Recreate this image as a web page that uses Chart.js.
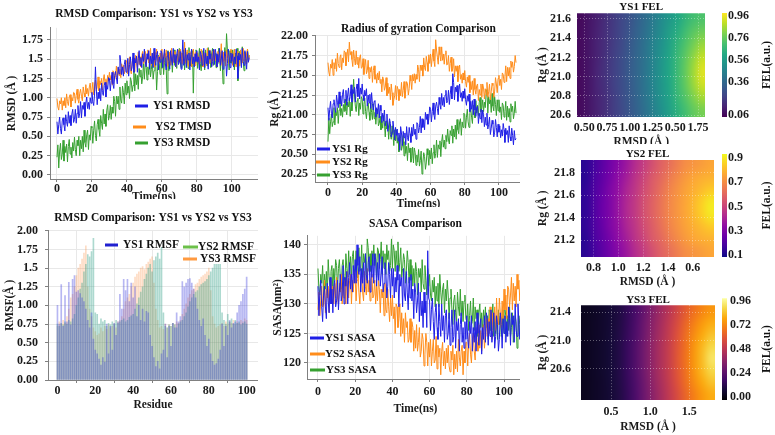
<!DOCTYPE html>
<html>
<head>
<meta charset="utf-8">
<script src="https://cdn.jsdelivr.net/npm/chart.js@4.4.0/dist/chart.umd.min.js"></script>
<style>
  html, body { margin: 0; padding: 0; background: #fff; }
  #fig { position: relative; width: 775px; height: 435px; overflow: hidden; background: #fff; }
  #fig canvas { position: absolute; }
</style>
</head>
<body>
<div id="fig"></div>
<script>
// ---- data ----
const timeStep = 0.5; // ns between samples
const timeTicks = [0, 20, 40, 60, 80, 100];

const ys1Rmsd = [
  0.69,0.53,0.65,0.75,0.60,0.53,0.70,0.74,0.65,0.57,0.78,0.69,0.63,0.82,0.67,0.77,0.64,0.79,0.85,0.68,
  0.72,0.85,0.67,0.80,0.90,0.74,0.80,0.95,0.74,0.90,0.85,0.94,0.76,0.93,1.01,0.86,0.94,0.85,1.00,0.93,
  1.07,0.95,0.90,1.05,1.40,1.11,0.91,1.07,0.99,1.12,0.96,1.19,1.07,1.03,1.16,1.20,1.01,1.16,1.11,1.26,
  1.25,1.09,1.22,1.33,1.18,1.12,1.29,1.34,1.26,1.18,1.40,1.31,1.55,1.45,1.30,1.40,1.28,1.43,1.49,1.33,
  1.36,1.51,1.28,1.43,1.53,1.35,1.40,1.58,1.33,1.51,1.45,1.54,1.33,1.51,1.61,1.42,1.52,1.39,1.57,1.47,
  1.63,1.47,1.40,1.57,1.50,1.61,1.37,1.54,1.44,1.58,1.39,1.64,1.49,1.42,1.56,1.60,1.36,1.53,1.46,1.61,
  1.58,1.39,1.53,1.63,1.44,1.36,1.54,1.60,1.47,1.37,1.61,1.50,1.42,1.64,1.46,1.56,1.40,1.57,1.63,1.43,
  1.46,1.60,1.37,1.51,1.75,1.42,1.47,1.64,1.39,1.56,1.49,1.58,1.36,1.54,1.63,1.44,1.53,1.40,1.57,1.47,
  1.61,1.46,1.53,1.36,1.60,1.56,1.42,1.49,1.64,1.39,1.58,1.44,1.54,1.37,1.61,1.50,1.57,1.40,1.47,1.63,
  1.43,1.63,1.57,1.40,1.56,1.46,1.64,1.42,1.50,1.61,1.37,1.47,1.60,1.54,1.28,1.44,1.63,1.53,1.39,1.58,
  1.47,1.57,1.40,1.53,1.44,1.63,1.54,1.25,1.58,1.49,1.56,1.39,1.64,1.47,1.42,1.61,1.51,1.37,1.60,1.46,
  1.52];
const ys2Rmsd = [
  0.99,0.88,0.84,0.96,0.92,1.00,0.84,0.96,0.90,1.00,0.87,1.05,0.95,0.90,1.01,1.04,0.88,1.00,0.96,1.07,
  1.06,0.93,1.03,1.11,0.98,0.93,1.06,1.11,1.02,0.96,1.14,1.06,1.01,1.17,1.05,1.12,1.02,1.14,1.19,1.06,
  1.09,1.20,1.04,1.15,1.23,1.09,1.14,1.27,1.09,1.22,1.17,1.25,1.10,1.23,1.30,1.18,1.24,1.16,1.29,1.22,
  1.33,1.23,1.29,1.17,1.35,1.33,1.24,1.29,1.41,1.24,1.39,1.29,1.37,1.26,1.44,1.36,1.42,1.31,1.37,1.48,
  1.47,1.31,1.43,1.53,1.37,1.31,1.47,1.52,1.42,1.34,1.55,1.46,1.39,1.59,1.43,1.53,1.40,1.55,1.60,1.44,
  1.48,1.60,1.41,1.53,1.62,1.45,1.50,1.64,1.42,1.57,1.51,1.59,1.40,1.56,1.63,1.47,1.54,1.44,1.58,1.50,
  1.63,1.50,1.44,1.58,1.52,1.62,1.41,1.56,1.47,1.59,1.42,1.64,1.51,1.45,1.57,1.60,1.40,1.54,1.48,1.62,
  1.46,1.63,1.58,1.44,1.57,1.48,1.72,1.45,1.52,1.62,1.41,1.50,1.60,1.56,1.40,1.47,1.63,1.54,1.42,1.59,
  1.50,1.58,1.44,1.54,1.47,1.63,1.56,1.40,1.59,1.51,1.57,1.42,1.64,1.50,1.45,1.62,1.53,1.41,1.60,1.48,
  1.62,1.48,1.54,1.40,1.60,1.57,1.45,1.51,1.70,1.42,1.59,1.47,1.56,1.41,1.62,1.52,1.58,1.44,1.50,1.63,
  1.59,1.42,1.54,1.63,1.47,1.40,1.56,1.60,1.50,1.41,1.62,1.52,1.45,1.64,1.48,1.57,1.44,1.58,1.63,1.46,
  1.55];
const ys3Rmsd = [
  0.23,0.39,0.09,0.31,0.41,0.20,0.27,0.45,0.18,0.37,0.29,0.40,0.17,0.37,0.46,0.27,0.36,0.22,0.42,0.31,
  0.49,0.33,0.25,0.45,0.38,0.50,0.25,0.45,0.34,0.50,0.30,0.58,0.42,0.36,0.52,0.58,0.33,0.52,0.45,0.63,
  0.61,0.41,0.58,0.70,0.51,0.44,0.65,0.72,0.59,0.50,0.77,0.67,0.59,0.85,0.66,0.79,0.63,0.84,0.91,0.71,
  0.77,0.90,0.72,0.88,0.80,1.02,0.95,0.76,1.02,0.92,1.02,0.85,1.14,0.97,0.93,1.15,1.07,0.92,1.19,1.04,
  1.22,1.06,1.15,0.99,1.26,1.22,1.08,1.16,1.35,1.09,1.31,1.17,1.29,1.11,1.38,1.27,1.36,1.18,1.27,1.45,
  1.24,1.47,1.41,1.23,1.40,1.30,1.50,1.27,1.37,1.49,1.24,1.35,1.50,1.44,1.10,1.34,1.55,1.44,1.30,1.51,
  1.38,1.54,1.30,1.46,1.57,1.36,1.05,1.61,1.35,1.53,1.45,1.56,1.33,1.53,1.62,1.42,1.52,1.38,1.57,1.46,
  1.64,1.47,1.39,1.58,1.50,1.62,1.36,1.55,1.44,1.59,1.38,1.65,1.48,1.41,1.56,1.61,1.06,1.53,1.45,1.62,
  1.59,1.38,1.53,1.64,1.44,1.35,1.55,1.61,1.47,1.36,1.62,1.50,1.41,1.65,1.45,1.56,1.39,1.58,1.64,1.42,
  1.47,1.58,1.39,1.53,1.44,1.64,1.55,1.35,1.59,1.48,1.18,1.38,1.65,1.47,1.83,1.62,1.52,1.36,1.61,1.45,
  1.45,1.62,1.52,1.36,1.58,1.43,1.64,1.22,1.38,1.60,1.55,1.41,1.66,1.47,1.35,1.59,1.51,1.44,1.63,1.50,
  1.55];
const rmsdTicks = [0, 0.25, 0.5, 0.75, 1.0, 1.25, 1.5, 1.75];
const rmsdTickLabels = ['0.00','0.25','0.50','0.75','1.00','1.25','1.5','1.75'];

const residueTicks = [0, 20, 40, 60, 80, 100];
const ys1Rmsf = [
  1.00,0.75,1.28,0.72,1.13,0.78,1.31,0.74,1.35,1.40,
  1.18,1.20,1.16,1.10,1.05,0.95,0.80,0.70,0.90,0.55,
  0.40,0.35,0.28,0.20,0.30,0.24,0.75,0.35,0.72,0.40,
  0.76,0.60,0.78,1.15,0.95,1.35,1.20,1.35,1.05,1.30,
  1.10,1.25,0.85,1.00,0.80,0.95,0.78,0.92,0.90,0.60,
  0.45,0.30,0.18,0.25,0.15,0.35,0.40,0.75,0.30,0.72,
  0.45,0.76,0.70,0.90,0.78,0.85,1.32,1.25,1.30,1.35,
  1.36,1.30,1.22,1.10,0.95,0.80,0.72,0.82,0.60,0.45,
  0.55,0.35,0.25,0.20,0.22,0.28,0.40,0.75,0.45,0.72,
  0.60,0.80,0.70,0.76,0.78,0.90,1.00,1.05,1.15,1.22,
  1.38];
const ys2Rmsf = [
  0.75,0.72,0.76,0.74,0.78,0.75,0.80,0.78,0.82,0.88,
  1.00,1.10,1.22,1.30,1.45,1.55,1.68,1.65,1.72,1.90,
  0.90,0.88,0.75,0.82,0.78,0.80,0.72,0.76,0.74,0.78,
  0.75,0.80,0.76,0.78,0.80,0.82,0.78,0.80,0.84,0.86,
  0.88,0.95,1.02,1.10,1.18,1.25,1.35,1.42,1.50,1.55,
  1.45,1.60,1.65,1.70,1.62,1.78,0.90,0.72,0.70,0.74,
  0.72,0.76,0.74,0.70,0.75,0.78,0.80,0.85,0.90,0.98,
  1.05,1.10,1.15,1.18,1.20,1.25,1.28,1.30,1.32,1.35,
  1.40,1.45,1.50,1.55,1.55,1.55,1.55,0.90,0.80,0.75,
  0.88,0.78,0.82,0.75,0.80,0.76,0.78,0.74,0.76,0.78,
  0.75];
const ys3Rmsf = [
  0.72,0.78,0.75,0.80,0.76,0.85,0.95,1.10,1.15,1.25,
  1.40,1.50,1.55,1.62,1.70,1.80,1.25,0.95,0.85,0.70,
  0.65,0.60,0.62,0.70,0.65,0.72,0.68,0.74,0.70,0.72,
  0.75,0.70,0.78,0.80,0.85,0.95,1.05,1.10,1.15,1.25,
  1.30,1.38,1.42,1.45,1.50,1.52,1.48,1.55,1.58,1.62,
  1.65,1.30,0.95,0.80,0.70,0.72,0.68,0.75,0.70,0.74,
  0.72,0.76,0.74,0.78,0.76,0.80,0.88,0.95,1.02,1.10,
  1.15,1.20,1.22,1.28,1.30,1.35,1.38,1.40,1.42,1.45,
  1.50,1.20,0.85,0.75,0.70,0.72,0.74,0.76,0.72,0.78,
  0.75,0.78,0.76,0.80,0.74,0.78,0.76,0.80,0.78,0.82,
  0.80];
const rmsfTicks = [0, 0.25, 0.5, 0.75, 1.0, 1.25, 1.5, 1.75, 2.0];
const rmsfTickLabels = ['0.00','0.25','0.50','0.75','1.00','1.25','1.5','1.75','2.00'];

const ys1Rg = [
  21.09,20.93,21.07,21.17,21.02,20.96,21.14,21.19,21.10,21.03,21.25,21.16,21.09,21.29,21.14,21.24,21.11,21.26,21.32,21.15,
  21.18,21.31,21.12,21.25,21.34,21.18,21.23,21.38,21.16,21.32,21.27,21.35,21.16,21.32,21.39,21.23,21.46,21.20,21.34,21.26,
  21.39,21.25,21.18,21.31,21.24,21.33,21.11,21.25,21.15,21.26,21.08,21.28,21.14,21.06,21.17,21.18,20.97,21.09,21.01,21.14,
  20.96,21.12,21.05,20.90,21.02,20.92,21.06,20.86,20.92,21.01,20.79,20.86,20.95,20.89,20.72,20.78,20.92,20.82,20.68,20.84,
  20.74,20.82,20.67,20.77,20.55,20.85,20.77,20.61,20.79,20.71,20.77,20.62,20.85,20.71,20.67,20.84,20.76,20.65,20.84,20.73,
  20.88,20.75,20.82,20.69,20.90,20.88,20.77,20.84,20.98,20.77,20.95,20.84,20.94,20.81,21.03,20.94,21.01,20.88,20.95,21.10,
  21.07,20.91,21.04,21.15,21.00,20.94,21.11,21.16,21.08,21.00,21.22,21.13,21.07,21.27,21.12,21.22,21.10,21.25,21.31,21.15,
  21.18,21.31,21.13,21.26,21.36,21.20,21.52,21.41,21.19,21.35,21.29,21.37,21.17,21.32,21.39,21.22,21.28,21.17,21.30,21.21,
  21.33,21.19,21.12,21.24,21.17,21.26,21.04,21.17,21.07,21.18,21.00,21.20,21.06,20.98,21.09,21.11,20.89,21.02,20.95,21.07,
  20.90,21.06,21.00,20.85,20.97,20.87,21.02,20.82,20.88,20.97,20.75,20.83,20.93,20.88,20.72,20.78,20.94,20.84,20.72,20.88,
  20.78,20.86,20.71,20.81,20.73,20.89,20.81,20.65,20.83,20.75,20.80,20.65,20.86,20.72,20.67,20.83,20.74,20.62,20.80,20.68,
  20.70];
const ys2Rg = [
  21.66,21.54,21.49,21.64,21.59,21.70,21.50,21.66,21.58,21.71,21.55,21.78,21.65,21.60,21.73,21.76,21.57,21.72,21.66,21.81,
  21.79,21.62,21.74,21.83,21.67,21.92,21.76,21.80,21.70,21.61,21.82,21.71,21.63,21.81,21.64,21.73,21.59,21.72,21.76,21.59,
  21.60,21.71,21.51,21.62,21.70,21.52,21.56,21.69,21.46,21.60,21.54,21.61,21.41,21.56,21.62,21.45,21.51,21.40,21.53,21.44,
  21.55,21.40,21.45,21.29,21.48,21.44,21.31,21.35,21.47,21.24,21.40,21.27,21.35,21.19,21.39,21.28,21.12,21.19,21.24,21.37,
  21.19,21.36,21.32,21.18,21.32,21.24,21.41,21.23,21.31,21.42,21.21,21.31,21.42,21.39,21.25,21.33,21.50,21.43,21.32,21.51,
  21.43,21.52,21.40,21.51,21.45,21.63,21.57,21.42,21.63,21.56,21.63,21.49,21.72,21.60,21.56,21.74,21.66,21.55,21.76,21.65,
  21.77,21.61,21.73,21.83,21.68,21.61,21.95,21.82,21.73,21.64,21.86,21.76,21.68,21.86,21.69,21.77,21.64,21.77,21.81,21.63,
  21.64,21.75,21.55,21.65,21.73,21.55,21.59,21.71,21.48,21.62,21.55,21.62,21.42,21.57,21.63,21.45,21.51,21.40,21.53,21.44,
  21.56,21.42,21.35,21.48,21.41,21.50,21.28,21.42,21.32,21.43,21.25,21.46,21.32,21.26,21.37,21.39,21.18,21.32,21.25,21.39,
  21.22,21.39,21.34,21.20,21.33,21.25,21.41,21.22,21.29,21.39,21.19,21.29,21.40,21.37,21.22,21.30,21.47,21.39,21.28,21.46,
  21.50,21.37,21.45,21.32,21.53,21.51,21.41,21.48,21.62,21.42,21.60,21.49,21.60,21.46,21.68,21.60,21.67,21.54,21.61,21.75,
  21.66];
const ys3Rg = [
  20.66,20.96,20.76,20.91,21.01,20.85,20.91,21.09,20.87,21.04,20.99,21.09,20.89,21.06,21.15,20.99,21.08,20.97,21.13,21.04,
  21.20,21.05,21.00,21.16,21.10,21.21,20.98,21.16,21.05,21.19,21.45,21.25,21.11,21.04,21.18,21.21,20.99,21.15,21.07,21.23,
  21.20,21.01,21.13,21.21,21.04,20.95,21.11,21.15,21.03,20.93,21.15,21.03,20.94,21.14,20.95,21.03,20.88,21.03,21.07,20.86,
  20.89,20.98,20.81,20.92,20.83,20.99,20.90,20.72,20.92,20.82,20.87,20.69,20.92,20.75,20.69,20.86,20.75,20.61,20.81,20.67,
  20.81,20.64,20.71,20.53,20.74,20.70,20.55,20.61,20.74,20.48,20.66,20.51,20.60,20.42,20.64,20.52,20.58,20.40,20.45,20.59,
  20.39,20.58,20.52,20.36,20.49,20.40,20.56,20.35,20.42,20.54,20.25,20.39,20.52,20.47,20.31,20.39,20.57,20.49,20.36,20.55,
  20.44,20.58,20.38,20.52,20.62,20.45,20.51,20.68,20.46,20.62,20.57,20.67,20.47,20.66,20.75,20.59,20.68,20.57,20.74,20.66,
  20.82,20.68,20.63,20.80,20.74,20.86,20.64,20.82,20.72,20.87,20.69,20.94,20.81,20.76,20.91,20.95,20.74,20.91,20.84,21.02,
  21.00,20.83,20.97,21.07,20.91,20.84,21.02,21.08,20.97,20.89,21.12,21.03,20.96,21.18,21.02,21.12,20.99,21.16,21.22,21.04,
  21.09,21.19,21.04,21.16,21.09,21.26,21.32,21.02,21.23,21.14,21.20,21.03,21.27,21.11,21.05,21.23,21.13,20.99,21.19,21.05,
  21.19,21.03,21.10,20.94,21.15,21.12,20.97,21.04,21.17,20.93,21.11,20.97,21.08,20.91,21.14,21.04,21.11,20.95,21.02,21.17,
  21.02];
const rgTicks = [20.25, 20.5, 20.75, 21.0, 21.25, 21.5, 21.75, 22.0];

const ys1Sasa = [
  133,128,132,134,129.5,127,131.5,133,129.5,127.5,133.5,130.5,128.5,134.5,130,132.5,128.5,133,134,129.5,
  130.5,134,129,132,135,130.5,131.5,136.5,130,134.5,133,135.5,130,134.5,137,132.5,135,132,136.5,133.5,
  137.5,133.5,140,136.5,135,138,132,136,133.5,137,132,138.5,135,133.5,137,138,132,136.5,134.5,138.5,
  133.5,138.5,137.5,133,137,134,138.5,133,135,138,132,133.5,137,135.5,131,133,137,135,131,136,
  133,136,131,134.5,132,136.5,134,129.5,135,133,134.5,129.5,136,131.5,130.5,135.5,132,129,134.5,131,
  135,130.5,132.5,127.5,133.5,132,128.5,130.5,133.5,127,132,128,130.5,126,132,128.5,130.5,126,139,131,
  130.5,125.5,129,131,127,124,128.5,130,126,124,130,127,124.5,130,125.5,128,123.5,128,129,124,
  125,128.5,123,126,129,123.5,124.5,129,122.5,127,125.5,127.5,122,126.5,128.5,123.5,126,122.5,127,124,
  128,124,122.5,127,125,128,122,126,123.5,127,122,128.5,125,123,126.5,127.5,121.5,126,124,128,
  123.5,128.5,127.5,123,127,124.5,129,123.5,125.5,128.5,122.5,124.5,128,126.5,122,124,128.5,126.5,122.5,127.5,
  125,128,123.5,127,124.5,129.5,127.5,123,128.5,126.5,128,123.5,130,125.5,124.5,130,127,124,129.5,126,
  127];
const ys2Sasa = [
  129,132,128,130.5,133,129.5,130,134,128.5,132.5,131,133,128.5,132.5,134,130,133,130,133.5,131,
  134.5,131,130,133.5,132,135,130,133.5,131,134,130,135.5,132.5,131,134,135,130,134,132,135.5,
  134.5,130.5,134,135.5,132,130,134,135,132,130.5,135.5,133,131.5,136,132,134,130.5,134,135,131,
  131.5,134,130,133,130.5,134,132.5,128.5,132.5,131,132.5,128,133.5,129,128.5,132.5,129.5,127,131,128,
  131.5,127.5,129.5,125,130,129.5,126,127.5,130,124.5,128.5,125,127.5,123.5,128.5,126,127,123.5,124,127.5,
  123.5,127,126,122,125.5,122.5,126.5,122,123.5,126,121,122,125,124,119.5,121.5,125,123.5,119.5,123.5,
  121,124,119.5,122,124,120,120.5,124.5,119,123,121,122.5,118,122,123.5,119.5,122,119,122.5,120,
  123,119.5,118.5,122,120.5,123,118,121.5,119,122,118.5,124,121,119.5,122,123,118,122,120,123.5,
  123.5,119.5,123.5,125,121.5,120,124,125,122,120.5,126,123.5,122,126.5,122.5,125.5,122,125.5,126.5,122.5,
  125,127.5,124.5,127.5,125,129.5,128,124,128.5,127,129.5,125.5,131,127,126.5,131,128.5,126,130.5,127.5,
  132.5,129,131.5,127.5,133,132.5,129.5,131.5,134.5,129,133.5,130.5,133,129.5,135,132.5,134,130.5,132,135.5,
  133];
const ys3Sasa = [
  136,132.5,131.5,135,133.5,136.5,131.5,135,132.5,135.5,131.5,137.5,134.5,133,135.5,136.5,132,136,134,137.5,
  136.5,132.5,136,137.5,134.5,132.5,136.5,137.5,134.5,133,138.5,136,134.5,139,135,138,134.5,138,139,135,
  136,139,134.5,137,139.5,135.5,136,140,134.5,138.5,137,138.5,134,141,139.5,135.5,138.5,135.5,139,136.5,
  140,136.5,138.5,134.5,139.5,139,136,137.5,140.5,135,139,136,138.5,135,140,137.5,139,135.5,136.5,141,
  136,140,139,135.5,139,136.5,140.5,135.5,137,139.5,134.5,136,138.5,137.5,133.5,135.5,139,137,133.5,137.5,
  134,136.5,133,136,133.5,137,135.5,131.5,136,134.5,136,132,137.5,133.5,132.5,136.5,134,131.5,136,133,
  135,131.5,130.5,134,132,134.5,129.5,133,130.5,133.5,129.5,135,132,130,132.5,133.5,128.5,132.5,130.5,134,
  131.5,127.5,131,132.5,129,126.5,130.5,131.5,128.5,127,132,129.5,128,132.5,128,130.5,127,130.5,131.5,127.5,
  127,130,125.5,128,130.5,126.5,127,131,125.5,129.5,127.5,129,124.5,128.5,130,126,128.5,125.5,129,126.5,
  129.5,126,128,124,129,128.5,125.5,127,130,124.5,128,125,127.5,124,129,126.5,128,124.5,125.5,129,
  125,129,128,124.5,128,125.5,129.5,124.5,126,128.5,123.5,125,128,127,122.5,124.5,128,126.5,123,127,
  125.5];
const sasaTicks = [120, 125, 130, 135, 140];

// free-energy landscapes: cell edges and values (rows from low Rg to high Rg)
const ys1FelRmsdEdges = [0.42,0.51,0.60,0.69,0.77,0.86,0.95,1.04,1.13,1.21,1.30,1.39,1.48,1.57,1.65,1.74,1.83];
const ys1FelRgEdges = [20.58,20.72,20.85,20.99,21.12,21.26,21.39,21.53,21.66];
const ys1Fel = [
  [0.07,0.10,0.13,0.17,0.21,0.25,0.295,0.34,0.395,0.45,0.51,0.575,0.64,0.70,0.755,0.79],
  [0.07,0.10,0.135,0.17,0.21,0.255,0.30,0.35,0.405,0.46,0.525,0.59,0.665,0.73,0.80,0.855],
  [0.07,0.10,0.14,0.175,0.22,0.26,0.305,0.355,0.41,0.47,0.535,0.60,0.68,0.755,0.84,0.915],
  [0.07,0.10,0.14,0.18,0.22,0.26,0.31,0.355,0.41,0.47,0.535,0.605,0.68,0.76,0.85,0.94],
  [0.07,0.10,0.135,0.175,0.215,0.26,0.305,0.355,0.405,0.465,0.53,0.60,0.675,0.75,0.83,0.905],
  [0.07,0.10,0.135,0.17,0.21,0.25,0.30,0.35,0.40,0.46,0.52,0.585,0.66,0.725,0.79,0.845],
  [0.07,0.10,0.13,0.17,0.205,0.245,0.29,0.34,0.39,0.445,0.505,0.57,0.63,0.695,0.745,0.78],
  [0.065,0.095,0.125,0.165,0.20,0.24,0.28,0.33,0.38,0.43,0.49,0.545,0.60,0.655,0.70,0.72]];
const ys1FelXTicks = [0.5, 0.75, 1.0, 1.25, 1.5, 1.75];
const ys1FelXLabels = ['0.50','0.75','1.00','1.25','0.50','1.75'];
const ys1FelYTicks = [20.6, 20.8, 21.0, 21.2, 21.4, 21.6];
const ys1FelYLabels = ['20.6','20.8','21.0','21.2','21.4','21.6'];
const ys1FelCbTicks = [0.06, 0.36, 0.56, 0.76, 0.96];
const ys1FelCbLabels = ['0.06','0.36','0.56','0.76','0.96'];

const ys2FelRmsdEdges = [0.70,0.77,0.83,0.90,0.97,1.03,1.10,1.17,1.24,1.30,1.37,1.44,1.50,1.57,1.64,1.70,1.77];
const ys2FelRgEdges = [21.05,21.16,21.27,21.37,21.48,21.59,21.70,21.81,21.92];
const ys2Fel = [
  [0.13,0.17,0.22,0.27,0.32,0.37,0.43,0.48,0.53,0.58,0.62,0.66,0.70,0.72,0.74,0.76],
  [0.13,0.18,0.23,0.28,0.34,0.39,0.45,0.50,0.56,0.60,0.65,0.69,0.73,0.76,0.78,0.79],
  [0.14,0.19,0.24,0.30,0.35,0.41,0.46,0.52,0.57,0.62,0.67,0.71,0.75,0.78,0.81,0.84],
  [0.14,0.19,0.25,0.30,0.36,0.42,0.47,0.53,0.58,0.63,0.68,0.72,0.76,0.80,0.85,0.90],
  [0.14,0.19,0.25,0.30,0.36,0.42,0.47,0.53,0.58,0.63,0.68,0.72,0.76,0.80,0.85,0.90],
  [0.14,0.19,0.24,0.30,0.35,0.41,0.46,0.52,0.57,0.62,0.67,0.71,0.75,0.78,0.81,0.84],
  [0.13,0.18,0.23,0.28,0.34,0.39,0.45,0.50,0.56,0.60,0.65,0.69,0.73,0.76,0.78,0.79],
  [0.13,0.17,0.22,0.27,0.32,0.37,0.43,0.48,0.53,0.58,0.62,0.66,0.70,0.72,0.74,0.76]];
const ys2FelXTicks = [0.8, 1.0, 1.2, 1.4, 1.6];
const ys2FelXLabels = ['0.8','1.0','1.2','1.4','0.6'];
const ys2FelYTicks = [21.2, 21.4, 21.6, 21.8];
const ys2FelYLabels = ['21.2','21.4','21.6','21.8'];
const ys2FelCbTicks = [0.1, 0.3, 0.5, 0.7, 0.9];
const ys2FelCbLabels = ['0.1','0.3','0.5','0.7','0.9'];

const ys3FelRmsdEdges = [0.115,0.22,0.33,0.44,0.54,0.65,0.76,0.87,0.97,1.08,1.19,1.29,1.40,1.51,1.62,1.72,1.83];
const ys3FelRgEdges = [20.16,20.33,20.50,20.66,20.83,21.00,21.16,21.33,21.50];
const ys3Fel = [
  [0.014,0.028,0.042,0.062,0.09,0.135,0.195,0.275,0.35,0.42,0.49,0.56,0.635,0.70,0.76,0.80],
  [0.015,0.029,0.043,0.063,0.093,0.14,0.20,0.28,0.36,0.43,0.50,0.58,0.655,0.73,0.795,0.845],
  [0.015,0.03,0.045,0.065,0.095,0.145,0.21,0.29,0.37,0.44,0.51,0.59,0.665,0.75,0.825,0.89],
  [0.015,0.03,0.045,0.065,0.095,0.145,0.21,0.29,0.37,0.44,0.51,0.595,0.67,0.755,0.835,0.92],
  [0.015,0.03,0.045,0.065,0.095,0.145,0.21,0.29,0.37,0.44,0.51,0.59,0.665,0.75,0.825,0.89],
  [0.015,0.029,0.043,0.063,0.093,0.14,0.20,0.28,0.36,0.43,0.50,0.58,0.655,0.73,0.795,0.845],
  [0.014,0.028,0.042,0.062,0.09,0.135,0.195,0.275,0.35,0.42,0.49,0.56,0.635,0.70,0.76,0.80],
  [0.013,0.027,0.04,0.06,0.085,0.13,0.185,0.26,0.335,0.405,0.47,0.54,0.61,0.665,0.715,0.75]];
const ys3FelXTicks = [0.5, 1.0, 1.5];
const ys3FelXLabels = ['0.5','1.0','1.5'];
const ys3FelYTicks = [20.6, 21.0, 21.4];
const ys3FelYLabels = ['20.6','21.0','21.4'];
const ys3FelCbTicks = [0, 0.24, 0.48, 0.72, 0.96];
const ys3FelCbLabels = ['0.00','0.24','0.48','0.72','0.96'];

// ---- styling ----
const SERIF = "'Liberation Serif', 'Times New Roman', serif";
Chart.defaults.font.family = SERIF;
Chart.defaults.font.weight = 'bold';
Chart.defaults.font.size = 12;
Chart.defaults.color = '#1a1a1a';

const BLUE = '#1f1fe6', ORANGE = '#ff8c1a', GREEN = '#36a030';
const VIRIDIS = ['#440154','#482475','#414487','#355f8d','#2a788e','#21918c','#22a884','#44bf70','#7ad151','#bddf26','#fde725'];
const PLASMA = ['#0d0887','#41049d','#6a00a8','#8f0da4','#b12a90','#cc4778','#e16462','#f2844b','#fca636','#fcce25','#f0f921'];
const INFERNO = ['#000004','#160b39','#420a68','#6a176e','#932667','#bc3754','#dd513a','#f37819','#fca50a','#f6d746','#fcffa4'];
const GRID = '#e8e8e8', AXIS = '#808080';

const fig = document.getElementById('fig');
function place(left, top, w, h, white) {
  const c = document.createElement('canvas');
  c.width = w; c.height = h;
  c.style.left = left + 'px'; c.style.top = top + 'px';
  c.style.width = w + 'px'; c.style.height = h + 'px';
  if (white) c.style.background = '#fff';
  fig.appendChild(c);
  return c;
}
const fixW = w => s => { s.width = w; };
const fixH = h => s => { s.height = h; };
const setTicks = vals => s => { s.ticks = vals.map(v => ({ value: v })); };

function hexRgb(h) { return [1, 3, 5].map(i => parseInt(h.substr(i, 2), 16)); }
function cmap(stops, t) {
  t = Math.max(0, Math.min(1, t));
  const n = stops.length - 1, f = t * n, i = Math.min(Math.floor(f), n - 1), u = f - i;
  const a = hexRgb(stops[i]), b = hexRgb(stops[i + 1]);
  return 'rgb(' + a.map((c, k) => Math.round(c + (b[k] - c) * u)).join(',') + ')';
}

// legend drawn inside the plot (positions in page px)
function legendInside(left, top, items, size) {
  return {
    id: 'legendInside',
    afterDatasetsDraw(chart) {
      const ctx = chart.ctx;
      ctx.save();
      ctx.translate(-left, -top);
      ctx.font = 'bold ' + size + 'px ' + SERIF;
      ctx.textBaseline = 'middle';
      items.forEach((it, i) => {
        ctx.strokeStyle = it.color;
        ctx.lineWidth = 3;
        ctx.beginPath(); ctx.moveTo(it.x0, it.y); ctx.lineTo(it.x1, it.y); ctx.stroke();
        ctx.fillStyle = '#111';
        ctx.fillText(chart.data.datasets[i].label, it.tx, it.y + 0.5);
      });
      ctx.restore();
    }
  };
}

function timeChart(box, o) {
  return new Chart(place(box.left, box.top, box.w, box.h, box.white), {
    type: 'line',
    data: {
      datasets: o.series.map(s => ({
        label: s.label,
        data: s.values.map((v, i) => ({ x: i * timeStep, y: v })),
        borderColor: s.color, borderWidth: 1, pointRadius: 0, tension: 0
      }))
    },
    options: {
      responsive: false, animation: false, events: [],
      plugins: {
        legend: { display: false }, tooltip: { enabled: false },
        title: { display: true, text: o.title, fullSize: false, color: '#111',
                 font: { size: 11.5 }, padding: o.titlePad }
      },
      scales: {
        x: {
          type: 'linear', min: o.xMin, max: o.xMax,
          afterBuildTicks: setTicks(timeTicks), afterFit: fixH(o.xH),
          ticks: { padding: o.xTickPad, maxRotation: 0, autoSkip: false },
          grid: { color: GRID, tickLength: 3, tickColor: AXIS },
          border: { color: AXIS },
          title: { display: true, text: 'Time(ns)', font: { size: 11.5 }, padding: { top: 0, bottom: o.xTitlePad } }
        },
        y: {
          min: o.yMin, max: o.yMax,
          afterBuildTicks: setTicks(o.yTicks), afterFit: fixW(o.yW),
          ticks: { padding: o.yTickPad, callback: o.yLabels ? (v, i) => o.yLabels[i] : undefined },
          grid: { color: GRID, tickLength: 3, tickColor: AXIS },
          border: { color: AXIS },
          title: { display: true, text: o.yTitle, font: { size: 11.5 }, padding: { top: o.yTitlePad, bottom: 0 } }
        }
      }
    },
    plugins: [legendInside(box.left, box.top, o.legend, o.legendSize)]
  });
}

// one pixel per grid cell, scaled onto the cell edges with smoothing
function heatPlugin(o) {
  return {
    id: 'heatCells',
    beforeDraw(chart) {
      const { ctx, chartArea: a, scales: { x, y } } = chart;
      const rows = o.grid.length, cols = o.grid[0].length;
      const off = document.createElement('canvas');
      off.width = cols; off.height = rows;
      const octx = off.getContext('2d');
      o.grid.forEach((row, i) => row.forEach((v, j) => {
        octx.fillStyle = cmap(o.stops, (v - o.vMin) / (o.vMax - o.vMin));
        octx.fillRect(j, rows - 1 - i, 1, 1);
      }));
      const xl = x.getPixelForValue(o.rmsdEdges[0]), xr = x.getPixelForValue(o.rmsdEdges[cols]);
      const yb = y.getPixelForValue(o.rgEdges[0]), yt = y.getPixelForValue(o.rgEdges[rows]);
      ctx.save();
      ctx.beginPath(); ctx.rect(a.left, a.top, a.right - a.left, a.bottom - a.top); ctx.clip();
      ctx.imageSmoothingEnabled = true;
      ctx.imageSmoothingQuality = 'high';
      ctx.drawImage(off, xl, yt, xr - xl, yb - yt);
      ctx.restore();
    }
  };
}

function felChart(box, o) {
  return new Chart(place(box.left, box.top, box.w, box.h, true), {
    type: 'scatter',
    data: { datasets: [] },
    options: {
      responsive: false, animation: false, events: [],
      plugins: {
        legend: { display: false }, tooltip: { enabled: false },
        title: { display: true, text: o.title, fullSize: false, color: '#111',
                 font: { size: 11, lineHeight: 1 }, padding: o.titlePad }
      },
      scales: {
        x: {
          type: 'linear', min: o.rmsdEdges[0], max: o.rmsdEdges[o.rmsdEdges.length - 1],
          afterBuildTicks: setTicks(o.xTicks), afterFit: fixH(o.xH),
          ticks: { padding: o.xTickPad, maxRotation: 0, autoSkip: false, callback: (v, i) => o.xLabels[i] },
          grid: { color: 'rgba(255,255,255,0.35)', drawTicks: false },
          border: { display: false, dash: [1, 2] },
          title: { display: true, text: 'RMSD (Å )', font: { size: 11.5 }, padding: { top: 0, bottom: o.xTitlePad } }
        },
        y: {
          type: 'linear', min: o.rgEdges[0], max: o.rgEdges[o.rgEdges.length - 1],
          afterBuildTicks: setTicks(o.yTicks), afterFit: fixW(o.yW),
          ticks: { padding: o.yTickPad, callback: (v, i) => o.yLabels[i] },
          grid: { color: 'rgba(255,255,255,0.35)', drawTicks: false },
          border: { display: false, dash: [1, 2] },
          title: { display: true, text: 'Rg (Å )', font: { size: 11.5 }, padding: { top: 16, bottom: 0 } }
        }
      }
    },
    plugins: [heatPlugin(o)]
  });
}

function colorbar(box, o) {
  return new Chart(place(box.left, box.top, box.w, box.h, false), {
    type: 'bar',
    data: {
      labels: [''],
      datasets: [{
        data: [[o.vMin, o.vMax]],
        borderWidth: 0, barPercentage: 1, categoryPercentage: 1,
        backgroundColor: c => {
          const a = c.chart.chartArea;
          if (!a) return o.stops[0];
          const g = c.chart.ctx.createLinearGradient(0, a.bottom, 0, a.top);
          o.stops.forEach((s, i) => g.addColorStop(i / (o.stops.length - 1), s));
          return g;
        }
      }]
    },
    options: {
      responsive: false, animation: false, events: [],
      layout: { padding: { left: 6, top: o.padTop, bottom: o.padBottom, right: 0 } },
      plugins: { legend: { display: false }, tooltip: { enabled: false } },
      scales: {
        x: { display: false },
        y: {
          position: 'right', min: o.vMin, max: o.vMax,
          afterBuildTicks: setTicks(o.ticks), afterFit: fixW(box.w - 11),
          ticks: { padding: o.tickPad, callback: (v, i) => o.labels[i] },
          grid: { display: false, drawTicks: false }, border: { display: false }
        }
      }
    },
    plugins: [{
      id: 'cbTitle',
      afterDraw(chart) {
        const ctx = chart.ctx, a = chart.chartArea;
        ctx.save();
        ctx.translate(51, (a.top + a.bottom) / 2);
        ctx.rotate(-Math.PI / 2);
        ctx.font = 'bold 11.5px ' + SERIF;
        ctx.fillStyle = '#111';
        ctx.textAlign = 'center'; ctx.textBaseline = 'middle';
        ctx.fillText('FEL(a.u.)', 0, 0);
        ctx.restore();
      }
    }]
  });
}

// ---- panel 1: RMSD vs time ----
timeChart({ left: 0, top: 0, w: 258, h: 206 }, {
  title: 'RMSD Comparison: YS1 vs YS2 vs YS3', titlePad: { top: 7, bottom: 7 },
  series: [
    { label: 'YS1 RMSD', values: ys1Rmsd, color: BLUE },
    { label: 'YS2 TMSD', values: ys2Rmsd, color: ORANGE },
    { label: 'YS3 RMSD', values: ys3Rmsd, color: GREEN }],
  xMin: -4, xMax: 115, xH: 27, xTickPad: 0, xTitlePad: 2,
  yMin: -0.052, yMax: 1.906, yTicks: rmsdTicks, yLabels: rmsdTickLabels,
  yW: 50, yTickPad: 4, yTitle: 'RMSD (Å )', yTitlePad: 5,
  legendSize: 11.5,
  legend: [
    { color: BLUE, x0: 135, x1: 148, y: 106, tx: 153 },
    { color: ORANGE, x0: 133, x1: 146, y: 127, tx: 155 },
    { color: GREEN, x0: 135, x1: 148, y: 143, tx: 153 }]
});

// ---- panel 2: RMSF per residue ----
(function () {
  const box = { left: 0, top: 199, w: 258, h: 236 };
  const mk = (label, vals, color) => ({
    label, data: vals.map((v, i) => ({ x: i, y: v })),
    backgroundColor: color, borderWidth: 0, barThickness: 1, grouped: false
  });
  new Chart(place(box.left, box.top, box.w, box.h, true), {
    type: 'bar',
    data: { datasets: [
      mk('YS1 RMSF', ys1Rmsf, 'rgba(55,55,220,0.36)'),
      mk('YS2 RMSF', ys2Rmsf, 'rgba(60,165,140,0.42)'),
      mk('YS3 RMSF', ys3Rmsf, 'rgba(250,145,75,0.32)')] },
    options: {
      responsive: false, animation: false, events: [],
      plugins: {
        legend: { display: false }, tooltip: { enabled: false },
        title: { display: true, text: 'RMSD Comparison: YS1 vs YS2 vs YS3', fullSize: false, color: '#111',
                 font: { size: 11.5 }, padding: { top: 12, bottom: 6 } }
      },
      scales: {
        x: {
          type: 'linear', min: -5, max: 106, offset: false,
          afterBuildTicks: setTicks(residueTicks), afterFit: fixH(55),
          ticks: { padding: 1, maxRotation: 0, autoSkip: false },
          grid: { color: GRID, tickLength: 3, tickColor: AXIS },
          border: { color: AXIS },
          title: { display: true, text: 'Residue', font: { size: 11.5 }, padding: { top: 0, bottom: 23 } }
        },
        y: {
          min: 0, max: 2.0,
          afterBuildTicks: setTicks(rmsfTicks), afterFit: fixW(48),
          ticks: { padding: 7, callback: (v, i) => rmsfTickLabels[i] },
          grid: { color: GRID, tickLength: 3, tickColor: AXIS },
          border: { color: AXIS },
          title: { display: true, text: 'RMSF(Å )', font: { size: 11.5 }, padding: { top: 3, bottom: 0 } }
        }
      }
    },
    plugins: [legendInside(box.left, box.top, [
      { color: '#2020d0', x0: 105, x1: 118, y: 245, tx: 123 },
      { color: '#6cc04a', x0: 183, x1: 198, y: 247, tx: 198 },
      { color: '#ff9a40', x0: 183, x1: 197, y: 259, tx: 200 }], 11.5)]
  });
})();

// ---- panel 3: radius of gyration ----
timeChart({ left: 262, top: 12, w: 260, h: 200 }, {
  title: 'Radius of gyration Comparison', titlePad: { top: 10, bottom: 0 },
  series: [
    { label: 'YS1 Rg', values: ys1Rg, color: BLUE },
    { label: 'YS2 Rg', values: ys2Rg, color: ORANGE },
    { label: 'YS3 Rg', values: ys3Rg, color: GREEN }],
  xMin: -7.6, xMax: 113.5, xH: 30, xTickPad: 1, xTitlePad: 1,
  yMin: 20.149, yMax: 22.0, yTicks: rgTicks, yLabels: rgTicks.map(v => v.toFixed(2)),
  yW: 53, yTickPad: 4, yTitle: 'Rg (Å )', yTitlePad: 6,
  legendSize: 11,
  legend: [
    { color: BLUE, x0: 317, x1: 330, y: 149, tx: 332 },
    { color: ORANGE, x0: 316, x1: 330, y: 162, tx: 332 },
    { color: GREEN, x0: 317, x1: 330, y: 175, tx: 332 }]
});

// ---- panel 4: SASA ----
timeChart({ left: 262, top: 207, w: 262, h: 218, white: true }, {
  title: 'SASA Comparison', titlePad: { top: 10, bottom: 5 },
  series: [
    { label: 'YS1 SASA', values: ys1Sasa, color: BLUE },
    { label: 'YS2 SASA', values: ys2Sasa, color: ORANGE },
    { label: 'YS3 SASA', values: ys3Sasa, color: GREEN }],
  xMin: -5.9, xMax: 110.75, xH: 46, xTickPad: 3, xTitlePad: 9,
  yMin: 117.29, yMax: 141.53, yTicks: sasaTicks,
  yW: 45, yTickPad: 3, yTitle: 'SASA(nm\u00B2)', yTitlePad: 9,
  legendSize: 11,
  legend: [
    { color: BLUE, x0: 310, x1: 324, y: 338, tx: 325 },
    { color: ORANGE, x0: 310, x1: 325, y: 354, tx: 325 },
    { color: GREEN, x0: 310, x1: 325, y: 370, tx: 326 }]
});

// ---- panels 5-7: free energy landscapes ----
felChart({ left: 520, top: 0, w: 193, h: 149 }, {
  title: 'YS1 FEL', titlePad: { top: 1.5, bottom: 0.5 },
  grid: ys1Fel, rmsdEdges: ys1FelRmsdEdges, rgEdges: ys1FelRgEdges,
  stops: VIRIDIS, vMin: 0.042, vMax: 0.987,
  xTicks: ys1FelXTicks, xLabels: ys1FelXLabels, yTicks: ys1FelYTicks, yLabels: ys1FelYLabels,
  xH: 32, xTickPad: 4, xTitlePad: 0, yW: 57, yTickPad: 6
});
felChart({ left: 520, top: 144, w: 194, h: 145 }, {
  title: 'YS2 FEL', titlePad: { top: 4.5, bottom: 0 },
  grid: ys2Fel, rmsdEdges: ys2FelRmsdEdges, rgEdges: ys2FelRgEdges,
  stops: PLASMA, vMin: 0.083, vMax: 0.933,
  xTicks: ys2FelXTicks, xLabels: ys2FelXLabels, yTicks: ys2FelYTicks, yLabels: ys2FelYLabels,
  xH: 32, xTickPad: 4, xTitlePad: 0, yW: 61, yTickPad: 6
});
felChart({ left: 520, top: 288, w: 195, h: 147 }, {
  title: 'YS3 FEL', titlePad: { top: 4.5, bottom: 0 },
  grid: ys3Fel, rmsdEdges: ys3FelRmsdEdges, rgEdges: ys3FelRgEdges,
  stops: INFERNO, vMin: -0.035, vMax: 0.99,
  xTicks: ys3FelXTicks, xLabels: ys3FelXLabels, yTicks: ys3FelYTicks, yLabels: ys3FelYLabels,
  xH: 35, xTickPad: 5, xTitlePad: 1, yW: 61, yTickPad: 10
});

colorbar({ left: 716, top: 0, w: 59, h: 130 }, {
  stops: VIRIDIS, vMin: 0.042, vMax: 0.987, ticks: ys1FelCbTicks, labels: ys1FelCbLabels,
  padTop: 13, padBottom: 13, tickPad: 1
});
colorbar({ left: 716, top: 144, w: 59, h: 126 }, {
  stops: PLASMA, vMin: 0.083, vMax: 0.933, ticks: ys2FelCbTicks, labels: ys2FelCbLabels,
  padTop: 10, padBottom: 13, tickPad: 1
});
colorbar({ left: 716, top: 288, w: 59, h: 127 }, {
  stops: INFERNO, vMin: -0.035, vMax: 0.99, ticks: ys3FelCbTicks, labels: ys3FelCbLabels,
  padTop: 9, padBottom: 15, tickPad: 3
});
</script>
</body>
</html>
